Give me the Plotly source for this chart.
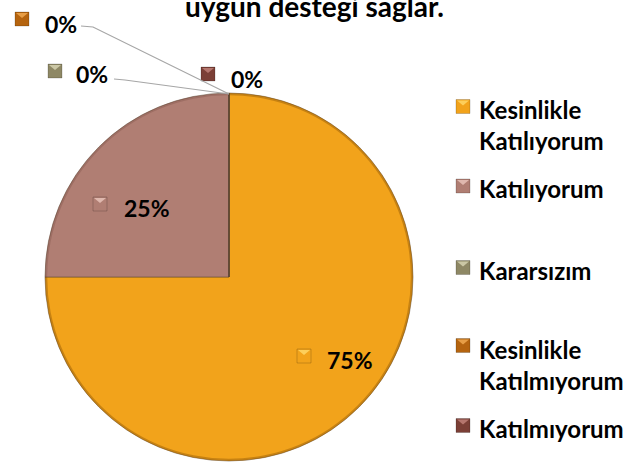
import plotly.graph_objects as go

categories = ["Kesinlikle Katılıyorum", "Katılıyorum", "Kararsızım",
              "Kesinlikle Katılmıyorum", "Katılmıyorum"]
legend_labels = ["Kesinlikle<br>Katılıyorum", "Katılıyorum", "Kararsızım",
                 "Kesinlikle<br>Katılmıyorum", "Katılmıyorum"]
values = [75, 25, 0, 0, 0]
colors = ["#F2A31B", "#B07E73", "#8E8865", "#B5640F", "#7B3F36"]
rim_colors = ["rgba(120,70,0,0.35)", "rgba(90,50,40,0.2)", "rgba(0,0,0,0.2)",
              "rgba(0,0,0,0.2)", "rgba(0,0,0,0.2)"]
light_colors = ["#FFD766", "#E8C2B8", "#D6D2B0", "#F0A850", "#C08078"]
title_text = "uygun desteği sağlar."

W, H = 629, 465
FONT = "Lato, Carlito, Calibri, sans-serif"


def px(x):
    return x / W


def py(y):
    return 1 - y / H


pie_domain = dict(x=[px(44), px(414)], y=[py(461), py(93)])

fig = go.Figure()
fig.add_trace(go.Pie(
    labels=categories, values=values, sort=False, direction="clockwise",
    rotation=0, textinfo="none", hoverinfo="label+percent",
    marker=dict(colors=colors, line=dict(color="rgba(90,70,50,0.5)", width=1)),
    domain=pie_domain, showlegend=False,
))
# subtle darker rim
fig.add_trace(go.Pie(
    labels=categories, values=values, sort=False, direction="clockwise",
    rotation=0, textinfo="none", hoverinfo="skip", hole=0.988,
    marker=dict(colors=rim_colors, line=dict(width=0)),
    domain=pie_domain, showlegend=False,
))

total = sum(values)
pct = [f"{round(v * 100 / total)}%" for v in values]

shapes = []
annotations = []


def marker(cx, cy, i, s=7):
    shapes.append(dict(type="rect", xref="paper", yref="paper",
                       x0=px(cx - s), x1=px(cx + s), y0=py(cy + s), y1=py(cy - s),
                       fillcolor=colors[i], line=dict(color="rgba(0,0,0,0.3)", width=0.6)))
    path = (f"M {px(cx - s + 1)},{py(cy - s + 1)} L {px(cx + s - 1)},{py(cy - s + 1)} "
            f"L {px(cx)},{py(cy - 1)} Z")
    shapes.append(dict(type="path", xref="paper", yref="paper", path=path,
                       fillcolor=light_colors[i], line=dict(width=0), opacity=0.85))


# data labels: text-left x, cap-center y, marker center x, marker center y
label_pos = [(325, 357, 304, 356), (122, 205, 100, 204), (74, 72, 55, 71),
             (43, 21, 22, 19), (229, 76, 208, 74)]
for i, (tx, ty, mx, my) in enumerate(label_pos):
    annotations.append(dict(
        x=px(tx), y=py(ty + 2.5), xref="paper", yref="paper", xanchor="left", yanchor="middle",
        text=f"<b>{pct[i]}</b>", showarrow=False,
        font=dict(family=FONT, size=23, color="#000000")))
    marker(mx, my, i)

# leader lines for zero slices
for pts in [[(114, 79), (125, 80), (229, 94)], [(81, 26), (93, 27), (229, 94)]]:
    path = "M " + " L ".join(f"{px(x)},{py(y)}" for x, y in pts)
    shapes.append(dict(type="path", xref="paper", yref="paper", path=path,
                       line=dict(color="#A6A6A6", width=1.2)))

# legend
legend_rows = [(106.5, 138.5), (186,), (267.5,), (345.5, 379), (425.5,)]
for i, rows in enumerate(legend_rows):
    marker(463, rows[0], i)
    yc = sum(rows) / len(rows)
    annotations.append(dict(
        x=px(477), y=py(yc + 2.5), xref="paper", yref="paper", xanchor="left", yanchor="middle",
        align="left", text=f"<b>{legend_labels[i]}</b>", showarrow=False,
        font=dict(family=FONT, size=24, color="#000000")))

# title (partially cut at top, as in the reference)
annotations.append(dict(
    x=px(315), y=py(6), xref="paper", yref="paper", xanchor="center", yanchor="middle",
    text=f"<b>{title_text}</b>", showarrow=False,
    font=dict(family=FONT, size=28, color="#000000")))

fig.update_layout(
    width=W, height=H, margin=dict(l=0, r=0, t=0, b=0),
    paper_bgcolor="#FFFFFF", plot_bgcolor="#FFFFFF",
    shapes=shapes, annotations=annotations, showlegend=False,
)
fig.write_html("out.html", config={"displayModeBar": False},
               post_script="document.body.style.margin='0';document.body.style.overflow='hidden';")
